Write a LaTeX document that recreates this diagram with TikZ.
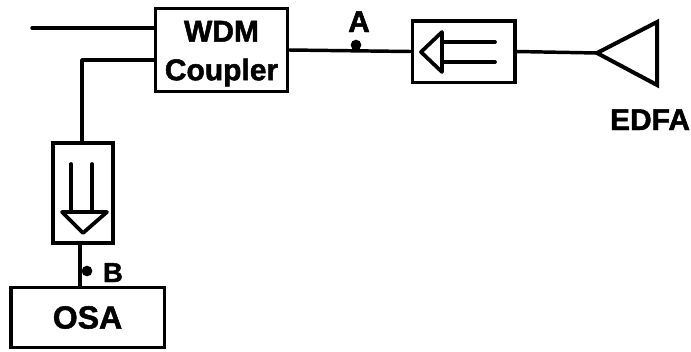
\documentclass[tikz,border=0pt]{standalone}
\usepackage{fontspec}
\setmainfont[BoldFeatures={FakeBold=1.6}]{Liberation Sans}
\tikzset{
  x=0.75pt,y=-0.75pt,
  wire/.style={line width=2.6pt,black,line cap=round,line join=round},
  boxnode/.style={draw=black,line width=2.5pt,rectangle,inner sep=0pt,align=center,font=\fontsize{22.5}{29}\selectfont\bfseries},
  lab/.style={inner sep=0pt,anchor=base,font=\fontsize{22.5}{29}\selectfont\bfseries},
  tag/.style={circle,fill=black,inner sep=0pt,minimum size=8pt},
  glyph/.style={line width=2.8pt,black,line join=round,line cap=round},
}
\begin{document}
\begin{tikzpicture}
\useasboundingbox (0,0) rectangle (691,351);
\node[boxnode,minimum width=99pt,minimum height=62pt] (wdm) at (221.5,50) {\rule{0pt}{21pt}WDM\\Coupler};
\node[boxnode,minimum width=77pt,minimum height=46pt] (isoh) at (463.5,51.5) {};
\node[boxnode,minimum width=45pt,minimum height=75pt] (isov) at (83,193) {};
\node[boxnode,minimum width=115pt,minimum height=45pt,font=\fontsize{24}{29}\selectfont\bfseries] (osa) at (87.5,317.5) {OSA};
% amplifier
\coordinate (amptip) at (597,53);
\coordinate (ampa) at (657,22);
\coordinate (ampb) at (657,85);
\draw[glyph,line width=3pt,line join=miter] (amptip) -- (ampa) -- (ampb) -- cycle;
% connectors
\coordinate (in1) at (32,28);
\coordinate (w1) at (155,28);
\coordinate (w2) at (155,60);
\coordinate (bend) at (82,60);
\coordinate (vt) at (82,142);
\coordinate (vb) at (80,245);
\coordinate (ob) at (80,287);
\draw[wire] (in1) -- (w1);
\draw[wire] (w2) -- (bend) -- (vt);
\draw[wire] (wdm.east) -- (isoh.west);
\draw[wire] (isoh.east) -- (amptip);
\draw[wire] (vb) -- (ob);
% horizontal isolator symbol
\coordinate (ha) at (421,52);
\coordinate (hb) at (442,32);
\coordinate (hc) at (442,72);
\coordinate (hd) at (495,42);
\coordinate (he) at (495,62);
\draw[glyph] (ha) -- (hb) -- (hc) -- cycle;
\draw[glyph] (hd) -- (hd -| hb);
\draw[glyph] (he) -- (he -| hb);
% vertical isolator symbol
\coordinate (va) at (83,233);
\coordinate (vc) at (62,212);
\coordinate (vd) at (107,212);
\coordinate (ve) at (71,164);
\coordinate (vf) at (92,164);
\draw[glyph] (va) -- (vc) -- (vd) -- cycle;
\draw[glyph] (ve) -- (ve |- vc);
\draw[glyph] (vf) -- (vf |- vc);
% test points and labels
\node[tag] (pa) at (356,45) {};
\node[tag] (pb) at (87,271) {};
\node[lab] (la) at (359,32) {A};
\node[lab,font=\fontsize{20.5}{24}\selectfont\bfseries] (lb) at (113,282) {B};
\node[lab] (ledfa) at (650,130) {EDFA};
\end{tikzpicture}
\end{document}
